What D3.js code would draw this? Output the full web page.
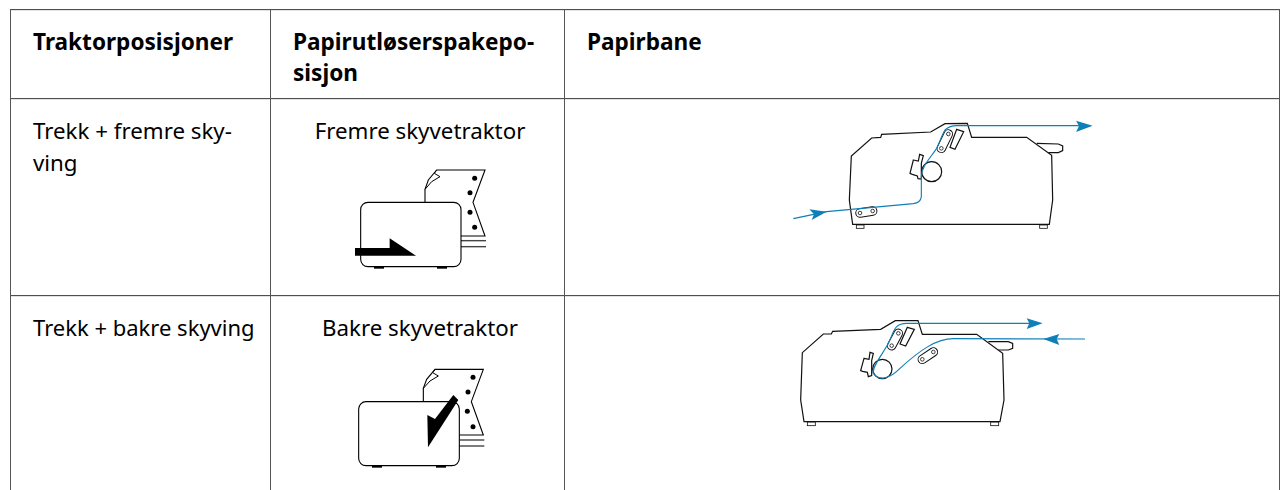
<!DOCTYPE html>
<html><head><meta charset="utf-8">
<script src="https://cdnjs.cloudflare.com/ajax/libs/d3/7.8.5/d3.min.js"></script>
<style>html,body{margin:0;padding:0;background:#fff}svg{display:block}text{font-family:"Noto Sans",sans-serif;fill:#000}</style>
</head><body><svg id="c" width="1280" height="490"></svg>
<script>
const columnEdges=[10,270,564,1279];
const rowEdges=[9,98,295];
const headerLines=[["Traktorposisjoner"],["Papirutløserspakepo-","sisjon"],["Papirbane"]];
const rowLabels=[["Trekk + fremre sky-","ving"],["Trekk + bakre skyving"]];
const leverLabels=["Fremre skyvetraktor","Bakre skyvetraktor"];

// diagram geometry, in each drawing's own units
const printerA={
 outline:[[218,343],[208,270],[214,138],[275,84],[302,82],[305,73],[452,66],[495,41],[562,40],[575,82],[740,82],[815,136],[818,270],[808,343]],
 feet:[[229,345,252,355],[779,345,802,355]],
 lever:[[770,100],[835,102],[848,108],[848,122],[835,128],[805,128]],
 roller:[455,185,30],
 clamp:[[400,150],[415,153],[419,133],[430,137],[424,160],[424,207],[414,206],[412,198],[397,193],[390,190]],
 pods:[[505,72,484,115],[240,309,278,303]],
 guide:[[530,58],[551,65],[525,118],[510,112]],
 paper:"M40,326L140,305L400,281Q422,278 424,260L424,200C424,170 450,145 470,115C480,95 485,75 495,60Q510,47 530,47L900,47",
 arrows:[[[938,47],[888,32],[897,48],[888,66]],[[140,305],[88,298],[102,313],[95,330]]]
};
const printerB={
 outline:[[42,335],[32,270],[37,128],[100,72],[124,72],[128,64],[272,58],[316,32],[384,32],[397,73],[560,73],[638,130],[642,270],[630,335]],
 feet:[[52,336,76,347],[602,336,626,347]],
 lever:[[595,95],[655,95],[668,100],[668,115],[655,120],[625,120]],
 roller:[277,177,29],
 clamp:[[222,145],[237,148],[240,127],[250,130],[245,152],[245,197],[235,200],[232,187],[218,184],[212,182]],
 pods:[[325,70,305,107],[397,148,430,126]],
 guide:[[352,52],[373,58],[347,108],[330,102]],
 paper:"M885,87L490,86C440,86 390,120 330,175C300,205 270,215 250,190C245,170 280,130 295,100C305,80 310,60 320,50Q330,40 350,40L720,40",
 arrows:[[[758,40],[710,25],[718,40],[710,57]],[[760,87],[808,72],[800,87],[808,105]]]
};
const iconA={
 box:[62,157,363,350,22],
 feet:[[102,350,132,356],[291,350,321,356]],
 paper:[[255,157],[255,118],[265,90],[290,60],[435,60],[399,157],[435,258],[363,258]],
 curl:[[290,60],[283,70],[300,80],[275,95],[255,118]],
 holes:[[404,85],[390,128],[390,187],[404,232]],
 stack:[[363,272,438,272],[363,290,438,290]],
 mark:[[45,294],[149,294],[149,265],[228,317],[45,317]]
};
const iconB={
 box:[56,155,358,347,22],
 feet:[[96,347,126,353],[288,347,318,353]],
 paper:[[250,155],[250,115],[260,88],[285,58],[430,58],[394,155],[430,255],[358,255]],
 curl:[[285,58],[278,68],[295,78],[270,93],[250,115]],
 holes:[[399,82],[384,126],[382,184],[399,230]],
 stack:[[358,270,433,270],[358,288,433,288]],
 mark:[[262,195],[285,207],[340,135],[355,150],[264,292]]
};

const svg=d3.select("#c");
const ruleColor="#333", blue="#0f7fb8";

// table rules
const g=svg.append("g");
rowEdges.forEach(y=>g.append("line").attr("x1",columnEdges[0]).attr("x2",columnEdges[3]+1).attr("y1",y+.65).attr("y2",y+.65).attr("stroke",ruleColor));
columnEdges.forEach(x=>g.append("line").attr("x1",x+.5).attr("x2",x+.5).attr("y1",rowEdges[0]).attr("y2",490).attr("stroke","#555").attr("shape-rendering","crispEdges"));

// text
function block(lines,x,y,size,weight,step,anchor){
 lines.forEach((t,i)=>svg.append("text").text(t).attr("x",x).attr("y",y+i*step).attr("font-size",size).attr("font-weight",weight).attr("text-anchor",anchor||"start"));
}
block(headerLines[0],33,50,22.6,700,31);
block(headerLines[1],293,50,22.6,700,31);
block(headerLines[2],587,50,22.6,700,31);
block(rowLabels[0],33,138.5,22.3,400,32.5);
block(rowLabels[1],33,336,22,400,32.5);
block([leverLabels[0]],420,138.5,22.3,400,0,"middle");
block([leverLabels[1]],420,336,22.3,400,0,"middle");

const line=d3.line();
function scales(x0,y0,k){return [d3.scaleLinear().domain([0,3]).range([x0,x0+k*3]),d3.scaleLinear().domain([0,3]).range([y0,y0+k*3])];}

function drawPrinter(p,x0,y0){
 const [sx,sy]=scales(x0,y0,1/3), pt=d=>[sx(d[0]),sy(d[1])];
 const s=svg.append("g").attr("fill","none").attr("stroke","#111").attr("stroke-width",1.2);
 s.append("path").attr("d",line(p.outline.map(pt))+"Z").attr("stroke-width",1.2);
 p.feet.forEach(f=>s.append("rect").attr("x",sx(f[0])).attr("y",sy(f[1])).attr("width",sx(f[2])-sx(f[0])).attr("height",sy(f[3])-sy(f[1])).attr("stroke-width",.8));
 s.append("path").attr("d",d3.line().curve(d3.curveLinear)(p.lever.map(pt)));
 s.append("circle").attr("cx",sx(p.roller[0])).attr("cy",sy(p.roller[1])).attr("r",p.roller[2]/3).attr("fill","#fff");
 s.append("path").attr("d",line(p.clamp.map(pt))+"Z").attr("fill","#fff");
 p.pods.forEach(q=>{
  const a=pt([q[0],q[1]]),b=pt([q[2],q[3]]);
  s.append("line").attr("x1",a[0]).attr("y1",a[1]).attr("x2",b[0]).attr("y2",b[1]).attr("stroke-width",9.5).attr("stroke-linecap","round");
  s.append("line").attr("x1",a[0]).attr("y1",a[1]).attr("x2",b[0]).attr("y2",b[1]).attr("stroke-width",7.5).attr("stroke-linecap","round").attr("stroke","#fff");
  [a,b].forEach(c=>s.append("circle").attr("cx",c[0]).attr("cy",c[1]).attr("r",1.8).attr("stroke-width",.8));
 });
 s.append("path").attr("d",line(p.guide.map(pt))+"Z").attr("fill","#fff");
 const b=svg.append("g").attr("transform",`translate(${sx(0)},${sy(0)}) scale(${(sx(3)-sx(0))/3})`);
 b.append("path").attr("d",p.paper).attr("fill","none").attr("stroke",blue).attr("stroke-width",3.4);
 p.arrows.forEach(a=>b.append("path").attr("d",line(a)+"Z").attr("fill",blue));
}
function drawIcon(c,x0,y0){
 const [sx,sy]=scales(x0,y0,1/3), pt=d=>[sx(d[0]),sy(d[1])];
 const s=svg.append("g").attr("fill","none").attr("stroke","#000").attr("stroke-width",1.1);
 s.append("path").attr("d",line(c.paper.map(pt)));
 s.append("path").attr("d",line(c.curl.map(pt))).attr("stroke-width",1);
 c.holes.forEach(h=>s.append("circle").attr("cx",sx(h[0])).attr("cy",sy(h[1])).attr("r",2.5).attr("fill","#000").attr("stroke","none"));
 c.stack.forEach(l=>s.append("line").attr("x1",sx(l[0])).attr("y1",sy(l[1])).attr("x2",sx(l[2])).attr("y2",sy(l[3])).attr("stroke","#444").attr("stroke-width",1.4));
 s.append("rect").attr("x",sx(c.box[0])).attr("y",sy(c.box[1])).attr("width",sx(c.box[2])-sx(c.box[0])).attr("height",sy(c.box[3])-sy(c.box[1])).attr("rx",c.box[4]/3).attr("fill","#fff");
 c.feet.forEach(f=>s.append("rect").attr("x",sx(f[0])).attr("y",sy(f[1])).attr("width",sx(f[2])-sx(f[0])).attr("height",sy(f[3])-sy(f[1])).attr("fill","#000").attr("stroke","none"));
 s.append("path").attr("d",line(c.mark.map(pt))+"Z").attr("fill","#000").attr("stroke","none");
}
drawIcon(iconA,340,150);
drawIcon(iconB,340,350);
drawPrinter(printerA,780,110);
drawPrinter(printerB,790,310);
</script></body></html>
